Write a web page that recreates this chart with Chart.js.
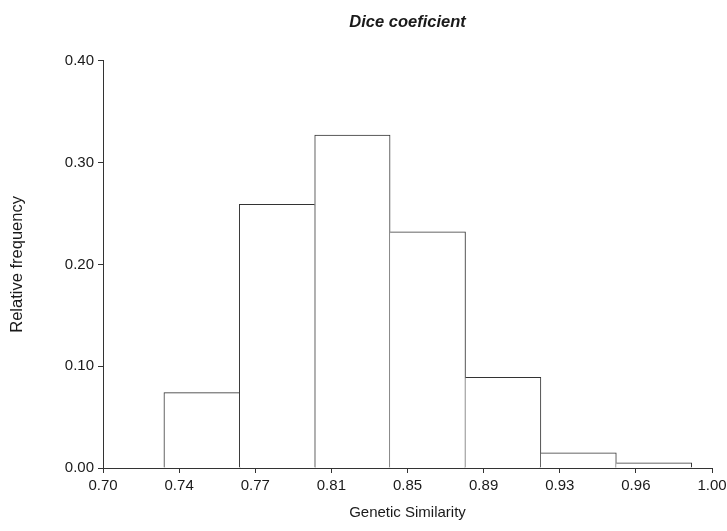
<!DOCTYPE html>
<html lang="en">
<head>
<meta charset="UTF-8">
<title>Dice coeficient</title>
<script src="https://cdn.jsdelivr.net/npm/chart.js@4.4.1/dist/chart.umd.min.js"></script>
<style>
  *{margin:0;padding:0;box-sizing:border-box;}
  body{background:#fff;width:727px;height:531px;overflow:hidden;}
  #chart{display:block;}
</style>
</head>
<body>
<canvas id="chart" width="727" height="531"></canvas>
<script>
// bin centres (genetic similarity) and relative frequency per bin
const binCenters = [0.74857, 0.78571, 0.82286, 0.86000, 0.89714, 0.93429, 0.97143];
const freqs      = [0.074, 0.259, 0.327, 0.232, 0.089, 0.015, 0.005];
// x axis tick positions and the labels printed under them
const xTickValues = [0.70, 0.7375, 0.775, 0.8125, 0.85, 0.8875, 0.925, 0.9625, 1.00];
const xTickLabels = ['0.70','0.74','0.77','0.81','0.85','0.89','0.93','0.96','1.00'];

const FONT = "'Liberation Sans', Arial, Helvetica, sans-serif";
const AXIS = '#333';
const TEXT = '#1a1a1a';

// draw a shared edge only once: the taller of the two bars draws it
function edges(ctx){
    var i = ctx.dataIndex;
    var v = freqs[i];
    var prev = i > 0 ? freqs[i-1] : 0;
    var next = i < freqs.length-1 ? freqs[i+1] : 0;
    return {top:1, bottom:0, left: prev < v ? 1 : 0, right: next < v ? 1 : 0};
}

new Chart(document.getElementById('chart'), {
    type: 'bar',
    data: {
        datasets: [{
            data: binCenters.map(function(x,i){ return {x:x, y:freqs[i]}; }),
            backgroundColor: '#fff',
            borderColor: AXIS,
            borderWidth: edges,
            borderSkipped: false,
            barPercentage: 1,
            categoryPercentage: 1
        }]
    },
    options: {
        responsive: false,
        animation: false,
        layout: {padding: {left:0, right:15, top:0, bottom:0}},
        plugins: {
            legend: {display:false},
            tooltip: {enabled:false},
            title: {
                display: true,
                fullSize: false,
                text: 'Dice coeficient',
                color: TEXT,
                font: {family:FONT, size:16.5, weight:'bold', style:'italic'},
                padding: {top:13, bottom:28}
            }
        },
        scales: {
            x: {
                type: 'linear',
                min: 0.70, max: 1.00,
                offset: false,
                z: 1,
                afterBuildTicks: function(scale){
                    scale.ticks = xTickValues.map(function(v){ return {value:v}; });
                },
                afterFit: function(scale){
                    scale.height = 63;
                    scale.paddingRight = 0;
                    scale.paddingLeft = 0;
                },
                grid: {offset:false, drawOnChartArea:false, drawTicks:true, tickLength:5, color:AXIS},
                border: {display:true, color:AXIS, width:1},
                ticks: {
                    autoSkip:false, maxRotation:0, padding:4, color:TEXT,
                    font:{family:FONT, size:15},
                    callback: function(v, i){ return xTickLabels[i]; }
                },
                title: {
                    display:true, text:'Genetic Similarity', color:TEXT,
                    font:{family:FONT, size:15}, padding:{top:0, bottom:9}
                }
            },
            y: {
                min: 0, max: 0.4,
                z: 1,
                afterFit: function(scale){ scale.width = 103; },
                grid: {drawOnChartArea:false, drawTicks:true, tickLength:5, color:AXIS},
                border: {display:true, color:AXIS, width:1},
                ticks: {
                    stepSize:0.1, padding:4, color:TEXT,
                    font:{family:FONT, size:15},
                    callback: function(v){ return v.toFixed(2); }
                },
                title: {
                    display:true, text:'Relative frequency', color:TEXT,
                    font:{family:FONT, size:16.5}, padding:{top:8, bottom:0}
                }
            }
        }
    }
});
</script>
</body>
</html>
